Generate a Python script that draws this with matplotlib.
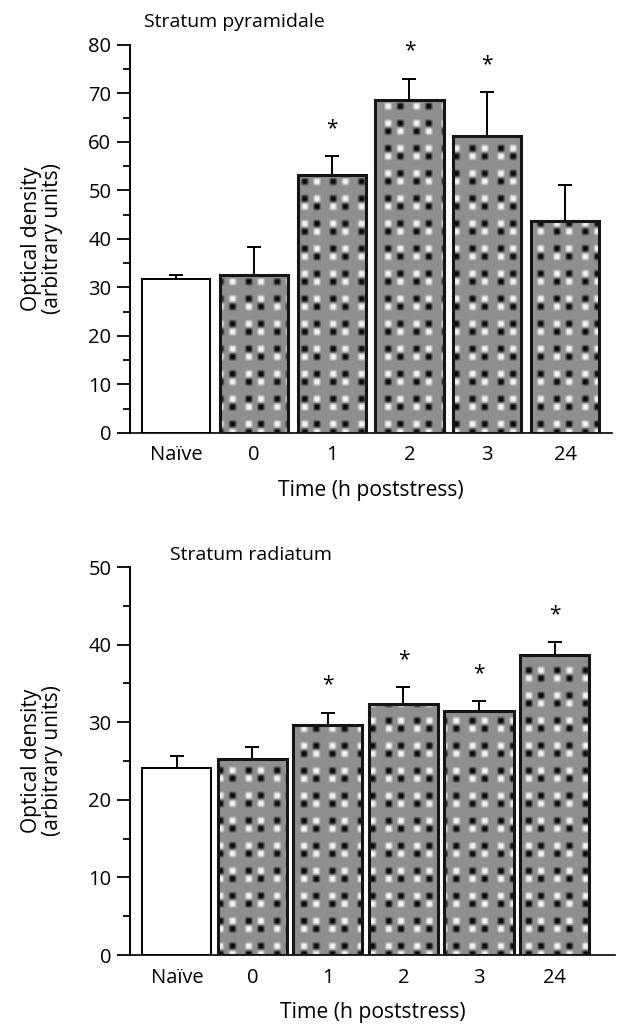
import matplotlib.pyplot as plt
import numpy as np

plt.rcParams['font.family'] = ['Open Sans', 'DejaVu Sans']

categories = ['Naïve', '0', '1', '2', '3', '24']

# Stratum pyramidale
pyr_means = [31.8, 32.5, 53.1, 68.7, 61.3, 43.8]
pyr_err = [0.8, 5.8, 4.0, 4.3, 9.0, 7.4]
pyr_stars = [False, False, True, True, True, False]

# Stratum radiatum
rad_means = [24.1, 25.3, 29.6, 32.3, 31.4, 38.7]
rad_err = [1.5, 1.5, 1.6, 2.2, 1.3, 1.6]
rad_stars = [False, False, True, True, True, True]


def dot_pattern(h, w):
    # grey texture with small dark/light dot pairs, like the scanned fill
    img = np.full((h, w), 0.56)
    tile_w, tile_h = 28, 50
    for y0 in range(0, h, tile_h):
        for x0 in range(0, w, tile_w):
            for k, ry in enumerate([4, 12, 29, 37]):
                flip = (k // 2) % 2
                for j, cx in enumerate([6, 18]):
                    dark = ((k % 2) + j + flip) % 2 == 0
                    val = 0.05 if dark else 0.95
                    ys, xs = y0 + ry - 3, x0 + cx - 3
                    img[max(ys, 0):max(ys + 6, 0), max(xs, 0):max(xs + 6, 0)] = val
    # soften a little, the original is a blurry scan
    out = np.zeros_like(img)
    for dy in (-1, 0, 1):
        for dx in (-1, 0, 1):
            out += np.roll(np.roll(img, dy, axis=0), dx, axis=1)
    return out / 9


def draw_panel(ax, means, err, stars, ymax, title, title_x, title_y, xlim, width):
    x = np.arange(len(categories))
    colors = ['white'] + ['#8c8c8c'] * (len(categories) - 1)
    fills = ax.bar(x, means, width=width, color=colors, linewidth=0, zorder=2)
    ax.bar(x, means, width=width, facecolor='none',
           edgecolor=['black'] + ['#151515'] * (len(categories) - 1),
           linewidth=[1.4] + [2.2] * (len(categories) - 1), zorder=4)
    ax.errorbar(x, means, yerr=[np.zeros(len(means)), err], fmt='none',
                ecolor='black', elinewidth=1.4, capsize=5, capthick=1.4, zorder=1)

    bb = ax.get_position()
    fig = ax.figure
    hpx = int(bb.height * fig.get_figheight() * fig.dpi)
    wpx = int(bb.width * fig.get_figwidth() * fig.dpi)
    pat = dot_pattern(hpx, wpx)
    for bar in fills.patches[1:]:
        im = ax.imshow(pat, extent=(xlim[0], xlim[1], 0, ymax), aspect='auto',
                       cmap='gray', vmin=0, vmax=1, interpolation='bilinear',
                       origin='upper', zorder=3)
        im.set_clip_path(bar)

    for xi, m, e, s in zip(x, means, err, stars):
        if s:
            ax.annotate('*', (xi, m + e), xytext=(0, 20), textcoords='offset points',
                        ha='center', va='center', fontsize=15)

    ax.set_xlim(*xlim)
    ax.set_ylim(0, ymax)
    ax.set_xticks(x)
    ax.set_xticklabels(categories, fontsize=14.5)
    ax.set_yticks(np.arange(0, ymax + 1, 10))
    ax.set_yticks(np.arange(5, ymax, 10), minor=True)
    ax.tick_params(axis='y', which='major', length=9.5, width=1.3, labelsize=14.5, pad=4)
    ax.tick_params(axis='y', which='minor', length=5, width=1.3)
    ax.tick_params(axis='x', length=0, pad=9)
    for side in ['top', 'right']:
        ax.spines[side].set_visible(False)
    ax.spines['left'].set_linewidth(1.4)
    ax.spines['bottom'].set_linewidth(1.2)
    ax.set_ylabel('Optical density\n(arbitrary units)', fontsize=15, linespacing=1.0)
    ax.yaxis.set_label_coords(-0.139, 0.5)
    ax.set_xlabel('Time (h poststress)', fontsize=15.2)
    ax.xaxis.set_label_coords(0.5, -0.12)
    ax.text(title_x, title_y, title, transform=ax.transAxes, fontsize=14,
            ha='left', va='center')


fig = plt.figure(figsize=(6.17, 10.27), dpi=100)
ax1 = fig.add_axes([0.2107, 0.5784, 0.781, 0.3778])
ax2 = fig.add_axes([0.2107, 0.0701, 0.786, 0.3778])

draw_panel(ax1, pyr_means, pyr_err, pyr_stars, 80, 'Stratum pyramidale', 0.03, 1.059,
           (-0.59, 5.6), 0.875)
draw_panel(ax2, rad_means, rad_err, rad_stars, 50, 'Stratum radiatum', 0.083, 1.031,
           (-0.62, 5.8), 0.915)

fig.savefig('out.png', dpi=100)
